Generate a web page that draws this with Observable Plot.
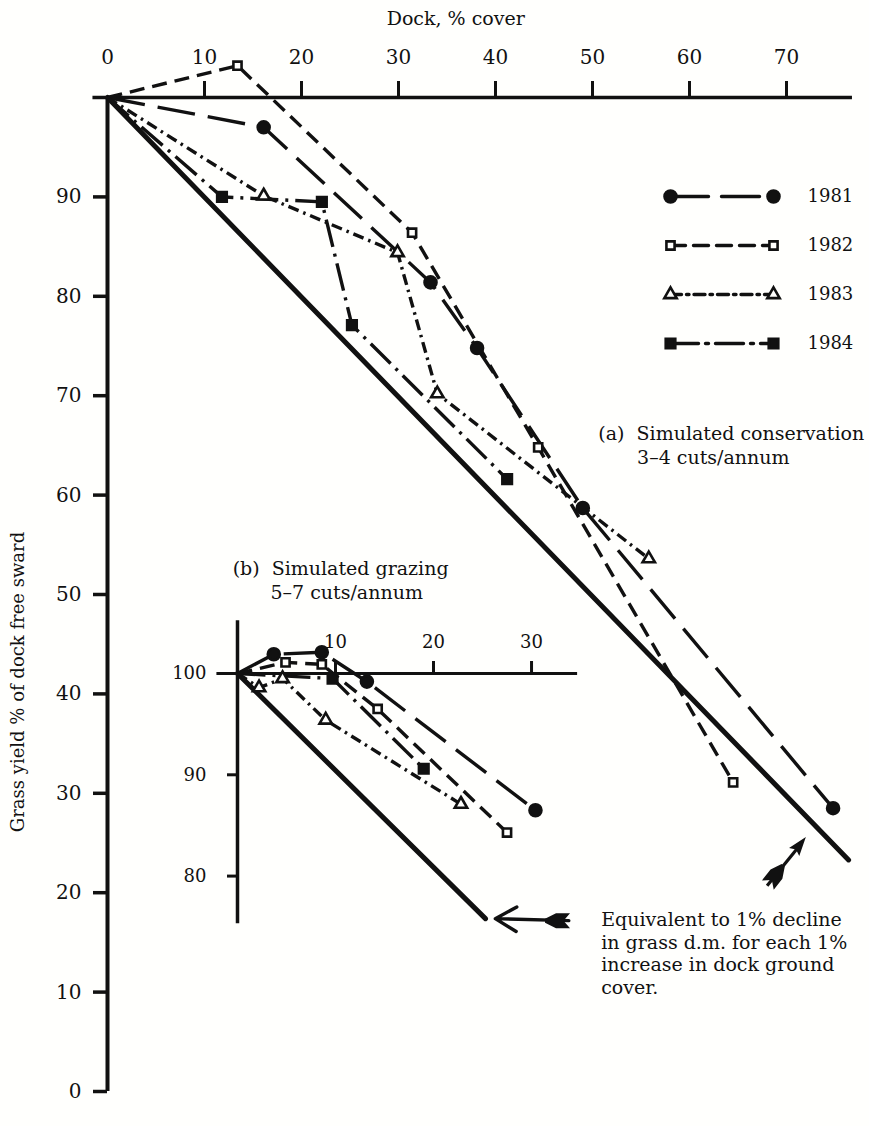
<!DOCTYPE html>
<html><head><meta charset="utf-8">
<script src="https://cdn.jsdelivr.net/npm/d3@7"></script>
<script src="https://cdn.jsdelivr.net/npm/@observablehq/plot@0.6"></script>
<style>
body{margin:0;background:#fffffd;}
#wrap{position:relative;width:869px;height:1126px;overflow:hidden;background:#fffffd;}
#wrap svg{position:absolute;overflow:visible;}
</style></head><body><div id="wrap"></div>
<script>
// ---- data ----
const years = ["1981","1982","1983","1984"];
const xTicks = [0,10,20,30,40,50,60,70];
const yTicks = [0,10,20,30,40,50,60,70,80,90];
const insetXTicks = [10,20,30];
const insetYTicks = [80,90,100];

// (a) Simulated conservation, 3-4 cuts/annum
const consDock1981 = [0,16.1,33.3,38.1,49.0,74.8];
const consYield1981 = [100,97.0,81.4,74.8,58.7,28.5];
const consDock1982 = [0,13.4,31.4,44.4,64.5];
const consYield1982 = [100,103.2,86.4,64.8,31.1];
const consDock1983 = [0,16.1,29.9,34.0,55.8];
const consYield1983 = [100,90.1,84.4,70.2,53.6];
const consDock1984 = [0,11.8,22.1,25.2,41.2];
const consYield1984 = [100,90.0,89.5,77.1,61.6];
const consRefDock = [0,76.4];
const consRefYield = [100,23.3];

// (b) Simulated grazing, 5-7 cuts/annum
const grazDock1981 = [0,3.7,8.6,13.2,30.4];
const grazYield1981 = [100,101.9,102.1,99.2,86.5];
const grazDock1982 = [0,4.9,8.6,14.3,27.5];
const grazYield1982 = [100,101.1,100.9,96.5,84.3];
const grazDock1983 = [0,2.2,4.6,9.0,22.8];
const grazYield1983 = [100,98.6,99.5,95.4,87.1];
const grazDock1984 = [0,9.7,19.0];
const grazYield1984 = [100,99.5,90.6];
const grazRefDock = [0,25.3];
const grazRefYield = [100,75.8];

// ---- helpers / styles ----
const rows = (year, xs, ys) => xs.map((x,i) => ({year, x, y: ys[i]}));
const cons = {
  "1981": rows("1981", consDock1981, consYield1981),
  "1982": rows("1982", consDock1982, consYield1982),
  "1983": rows("1983", consDock1983, consYield1983),
  "1984": rows("1984", consDock1984, consYield1984)
};
const graz = {
  "1981": rows("1981", grazDock1981, grazYield1981),
  "1982": rows("1982", grazDock1982, grazYield1982),
  "1983": rows("1983", grazDock1983, grazYield1983),
  "1984": rows("1984", grazDock1984, grazYield1984)
};
const consRef = rows("ref", consRefDock, consRefYield);
const grazRef = rows("ref", grazRefDock, grazRefYield);

const INK = "#111";
const PAPER = "#fffffd";
const FONT = "DejaVu Serif";
const dash = {"1981":"38,13", "1982":"15,8", "1983":"11,5,2.5,5", "1984":"28,7,3,7"};
const sym = {"1981":"circle", "1982":"square", "1983":"triangle", "1984":"square"};
const fillOf = {"1981":INK, "1982":PAPER, "1983":PAPER, "1984":INK};
const rOf = {"1981":6, "1982":4.6, "1983":4.6, "1984":5.4};

// fletched tail and filled head of the annotation arrows (drawn along +x, then rotated)
const polySymbol = pts => ({draw(ctx){
  ctx.moveTo(pts[0][0], pts[0][1]);
  for (let i = 1; i < pts.length; i++) ctx.lineTo(pts[i][0], pts[i][1]);
  ctx.closePath();
}});
const fletch = polySymbol([[12,-2],[1,-7.5],[-13,-7.5],[-6.5,0],[-13,7.5],[1,7.5],[12,2]]);
const head = polySymbol([[10,0],[-9,-6.5],[-6,0],[-9,6.5]]);

function seriesMarks(set){
  const marks = [];
  for (const yr of years){
    marks.push(Plot.line(set[yr], {x:"x", y:"y", stroke:INK, strokeWidth:3.4, strokeDasharray:dash[yr], strokeLinecap:"butt"}));
  }
  for (const yr of years){
    marks.push(Plot.dot(set[yr].filter(d => d.x > 0), {x:"x", y:"y", symbol:sym[yr], r:rOf[yr], fill:fillOf[yr], stroke:INK, strokeWidth:2.6}));
  }
  return marks;
}

const wrap = document.getElementById("wrap");
function place(svg, left, top){
  svg.style.left = left + "px"; svg.style.top = top + "px";
  wrap.appendChild(svg);
}

// ---- main chart (a) ----
const main = Plot.plot({
  width: 869, height: 1126,
  marginLeft: 107, marginRight: 15.1, marginTop: 97, marginBottom: 35,
  x: {domain: [0, 77], axis: null},
  y: {domain: [0, 100], axis: null},
  style: {fontFamily: FONT, background: "transparent", color: INK},
  marks: [
    Plot.ruleY([100], {x1: -1.5, x2: 76.8, stroke: INK, strokeWidth: 3.5}),
    Plot.ruleX([0], {y1: 0, y2: 100, stroke: INK, strokeWidth: 4}),
    Plot.axisX({anchor: "top", ticks: xTicks.filter(d => d > 0), tickSize: 17, tickFormat: () => "", strokeWidth: 3, stroke: INK}),
    Plot.text(xTicks, {x: d => d, y: 100, dy: -40, text: d => String(d), fontSize: 20, fill: INK}),
    Plot.axisY({anchor: "left", ticks: yTicks, tickSize: 14, tickFormat: () => "", strokeWidth: 3.5, stroke: INK}),
    Plot.text(yTicks, {x: 0, y: d => d, dx: -26, text: d => String(d), textAnchor: "end", fontSize: 20, fill: INK}),
    Plot.text(["Dock, % cover"], {x: 35.9, y: 100, dy: -79, fontSize: 19, fill: INK}),
    Plot.text(["Grass yield % of dock free sward"], {x: 0, y: 41.2, dx: -89, rotate: -90, fontSize: 18, fill: INK}),
    Plot.line(consRef, {x: "x", y: "y", stroke: INK, strokeWidth: 5, strokeLinecap: "round"}),
    ...seriesMarks(cons),
    Plot.text(["(a)  Simulated conservation"], {x: 50.6, y: 66.2, textAnchor: "start", fontSize: 19, fill: INK}),
    Plot.text(["3–4 cuts/annum"], {x: 54.6, y: 63.7, textAnchor: "start", fontSize: 19, fill: INK}),
    Plot.text(["(b)  Simulated grazing"], {x: 12.9, y: 52.6, textAnchor: "start", fontSize: 19, fill: INK}),
    Plot.text(["5–7 cuts/annum"], {x: 16.8, y: 50.2, textAnchor: "start", fontSize: 19, fill: INK}),
    Plot.text(["Equivalent to 1% decline\nin grass d.m. for each 1%\nincrease in dock ground\ncover."],
      {x: 50.9, y: 18.3, textAnchor: "start", lineAnchor: "top", lineHeight: 1.2, fontSize: 19, fill: INK}),
    Plot.link([{x1: 68.0, y1: 20.7, x2: 71.4, y2: 24.8}], {x1: "x1", y1: "y1", x2: "x2", y2: "y2", stroke: INK, strokeWidth: 3.2}),
    Plot.dot([{x: 71.36, y: 24.82}], {x: "x", y: "y", symbol: head, r: 5, fill: INK, stroke: "none", rotate: -52}),
    Plot.dot([{x: 68.9, y: 21.8}], {x: "x", y: "y", symbol: fletch, r: 5, fill: INK, stroke: "none", rotate: -52})
  ]
});
place(main, 0, 0);

// ---- inset chart (b) ----
const inset = Plot.plot({
  width: 450, height: 340,
  marginLeft: 87, marginRight: 22.9, marginTop: 73, marginBottom: 16.8,
  x: {domain: [0, 34.7], axis: null},
  y: {domain: [75.3, 100], axis: null},
  style: {fontFamily: FONT, background: "transparent", color: INK},
  marks: [
    Plot.ruleY([100], {x1: -2.1, x2: 34.7, stroke: INK, strokeWidth: 3}),
    Plot.ruleX([0], {y1: 75.3, y2: 105.2, stroke: INK, strokeWidth: 3.5}),
    Plot.axisX({anchor: "top", ticks: insetXTicks, tickSize: 13, tickFormat: () => "", strokeWidth: 3, stroke: INK}),
    Plot.text(insetXTicks, {x: d => d, y: 100, dy: -31, text: d => String(d), fontSize: 18, fill: INK}),
    Plot.axisY({anchor: "left", ticks: insetYTicks.filter(d => d < 100), tickSize: 10, tickFormat: () => "", strokeWidth: 3, stroke: INK}),
    Plot.text(insetYTicks, {x: 0, y: d => d, dx: -31, text: d => String(d), textAnchor: "end", fontSize: 18, fill: INK}),
    Plot.line(grazRef, {x: "x", y: "y", stroke: INK, strokeWidth: 5, strokeLinecap: "round"}),
    ...seriesMarks(graz),
    Plot.arrow([{x1: 33.8, y1: 75.6, x2: 26.3, y2: 75.8}], {x1: "x1", y1: "y1", x2: "x2", y2: "y2", stroke: INK, strokeWidth: 3.4, headLength: 14, headAngle: 60}),
    Plot.dot([{x: 32.6, y: 75.6}], {x: "x", y: "y", symbol: fletch, r: 5, fill: INK, stroke: "none", rotate: 180})
  ]
});
place(inset, 150, 600);

// ---- legend ----
const legendRows = years.flatMap(yr => [{year: yr, x: 0}, {year: yr, x: 1}]);
const legend = Plot.plot({
  width: 229, height: 200,
  marginLeft: 30, marginRight: 96, marginTop: 26, marginBottom: 27,
  x: {domain: [0, 1], axis: null},
  y: {type: "point", domain: years, padding: 0, axis: null},
  style: {fontFamily: FONT, background: "transparent", color: INK},
  marks: [
    ...years.map(yr => Plot.line(legendRows.filter(d => d.year === yr), {x: "x", y: "year", stroke: INK, strokeWidth: 3.4, strokeDasharray: dash[yr]})),
    ...years.map(yr => Plot.dot(legendRows.filter(d => d.year === yr), {x: "x", y: "year", symbol: sym[yr], r: rOf[yr], fill: fillOf[yr], stroke: INK, strokeWidth: 2.6})),
    Plot.text(years, {x: 1, y: d => d, dx: 34, text: d => d, textAnchor: "start", fontSize: 18, fill: INK})
  ]
});
place(legend, 640, 170);
</script></body></html>
